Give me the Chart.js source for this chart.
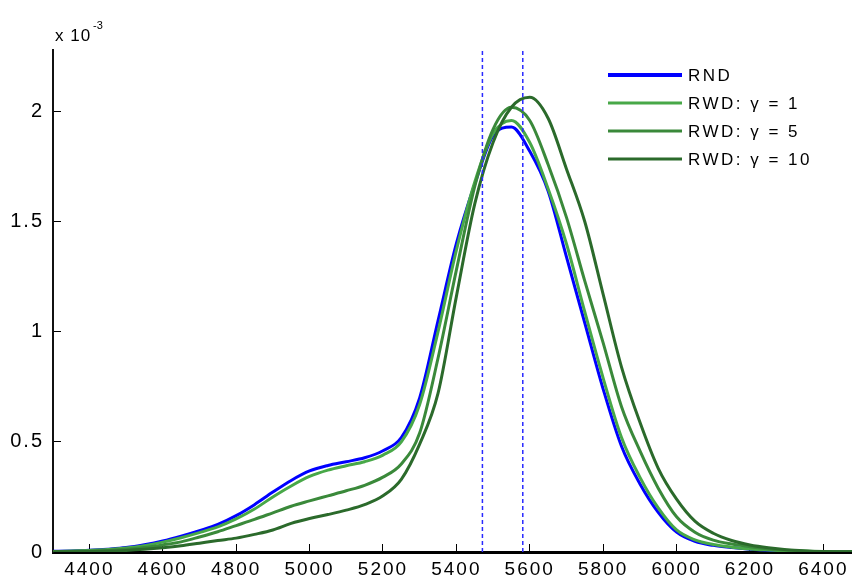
<!DOCTYPE html>
<html>
<head>
<meta charset="utf-8">
<script src="https://cdn.jsdelivr.net/npm/chart.js@4/dist/chart.umd.min.js"></script>
<style>
  html, body { margin: 0; padding: 0; background: #ffffff; }
  #wrap { width: 852px; height: 579px; }
</style>
</head>
<body>
<div id="wrap"><canvas id="c" width="852" height="579"></canvas></div>
<script>
// Price grid shared by all density curves
const price = [4300, 4350, 4400, 4450, 4500, 4550, 4600, 4650, 4700, 4750,
               4800, 4850, 4900, 4950, 5000, 5050, 5100, 5150, 5200, 5250,
               5300, 5350, 5400, 5450, 5500, 5550, 5600, 5650, 5700, 5750,
               5800, 5850, 5900, 5950, 6000, 6050, 6100, 6150, 6200, 6250,
               6300, 6350, 6400, 6450, 6500];

// Densities, in units of 1e-3
const rnd = [0.003, 0.005, 0.008, 0.013, 0.020, 0.033, 0.050, 0.072, 0.097, 0.125,
             0.165, 0.215, 0.272, 0.325, 0.368, 0.393, 0.410, 0.428, 0.460, 0.520,
             0.700, 1.050, 1.400, 1.670, 1.890, 1.930, 1.820, 1.640, 1.340, 1.040,
             0.740, 0.480, 0.310, 0.180, 0.090, 0.048, 0.030, 0.020, 0.013, 0.008,
             0.004, 0.002, 0.001, 0.0005, 0.0003];
const rwdGamma1 = [0.002, 0.004, 0.007, 0.011, 0.018, 0.029, 0.045, 0.065, 0.088, 0.114,
                   0.150, 0.195, 0.250, 0.300, 0.343, 0.372, 0.392, 0.410, 0.440, 0.500,
                   0.670, 1.000, 1.370, 1.680, 1.900, 1.960, 1.860, 1.650, 1.400, 1.090,
                   0.790, 0.520, 0.340, 0.200, 0.100, 0.055, 0.034, 0.022, 0.014, 0.009,
                   0.005, 0.003, 0.001, 0.0005, 0.0003];
const rwdGamma5 = [0.001, 0.002, 0.004, 0.007, 0.012, 0.020, 0.032, 0.046, 0.068, 0.092,
                   0.120, 0.148, 0.178, 0.208, 0.232, 0.255, 0.278, 0.303, 0.340, 0.400,
                   0.540, 0.880, 1.280, 1.660, 1.920, 2.020, 1.960, 1.760, 1.520, 1.230,
                   0.950, 0.660, 0.460, 0.290, 0.160, 0.090, 0.054, 0.036, 0.024, 0.014,
                   0.008, 0.004, 0.002, 0.001, 0.0005];
const rwdGamma10 = [0.0005, 0.001, 0.002, 0.004, 0.007, 0.012, 0.019, 0.028, 0.040, 0.052,
                    0.063, 0.080, 0.100, 0.130, 0.152, 0.170, 0.190, 0.215, 0.255, 0.330,
                    0.490, 0.720, 1.160, 1.580, 1.860, 2.020, 2.065, 1.970, 1.740, 1.500,
                    1.170, 0.840, 0.590, 0.380, 0.240, 0.140, 0.085, 0.052, 0.032, 0.019,
                    0.010, 0.005, 0.002, 0.001, 0.0005];

// Reference prices marked by dashed vertical lines
const markerPrices = [5471, 5581];

// Axis ticks
const xTicks = [4400, 4600, 4800, 5000, 5200, 5400, 5600, 5800, 6000, 6200, 6400];
const yTicks = [0, 0.5, 1, 1.5, 2];
const xMin = 4301, xMax = 6478;
const yMin = 0, yMax = 2.28;

const seriesNames = ['RND', 'RWD: \u03b3 = 1', 'RWD: \u03b3 = 5', 'RWD: \u03b3 = 10'];
const seriesColors = ['#0000ff', '#48a848', '#3a893a', '#2b6a2b'];

const FONT = '"Liberation Sans", Arial, sans-serif';

function points(ys) {
  return price.map((x, i) => ({ x: x, y: ys[i] }));
}

const curveSets = [rnd, rwdGamma1, rwdGamma5, rwdGamma10].map((ys, i) => ({
  label: seriesNames[i],
  data: points(ys),
  borderColor: seriesColors[i],
  backgroundColor: seriesColors[i],
  borderWidth: 3,
  pointRadius: 0,
  cubicInterpolationMode: 'monotone',
  fill: false,
  order: 4 - i,
  inLegend: true,
  legendWidth: i === 0 ? 4 : 3
}));

const markerSets = markerPrices.map(p => ({
  label: 'marker ' + p,
  data: [{ x: p, y: yMin }, { x: p, y: yMax }],
  borderColor: '#2a2aff',
  borderWidth: 1.5,
  borderDash: [4, 3],
  pointRadius: 0,
  fill: false,
  order: 0,
  inLegend: false
}));

// Exponent label and legend drawn on top of the plot
const overlay = {
  id: 'overlay',
  beforeDraw(chart) {
    chart.ctx.letterSpacing = '2px';
  },
  afterDraw(chart) {
    const ctx = chart.ctx;
    ctx.save();
    ctx.fillStyle = '#000';
    ctx.textBaseline = 'alphabetic';
    ctx.textAlign = 'left';
    ctx.letterSpacing = '1px';
    ctx.font = '17px ' + FONT;
    ctx.fillText('x 10', 55, 41);
    ctx.letterSpacing = '0px';
    ctx.font = '11px ' + FONT;
    ctx.fillText('-3', 93, 29);

    ctx.font = '17px ' + FONT;
    ctx.letterSpacing = '2.5px';
    ctx.textBaseline = 'middle';
    const items = chart.data.datasets.filter(d => d.inLegend);
    items.forEach((d, i) => {
      const y = 75 + i * 28;
      ctx.strokeStyle = d.borderColor;
      ctx.lineWidth = d.legendWidth;
      ctx.beginPath();
      ctx.moveTo(608, y);
      ctx.lineTo(682, y);
      ctx.stroke();
      ctx.fillStyle = '#000';
      ctx.fillText(d.label, 688, y + 1);
    });
    ctx.restore();
  }
};

new Chart(document.getElementById('c'), {
  type: 'line',
  data: { datasets: [...curveSets, ...markerSets] },
  plugins: [overlay],
  options: {
    responsive: false,
    devicePixelRatio: 1,
    animation: false,
    layout: { padding: { top: 50, left: 0, right: 0, bottom: 0 } },
    plugins: {
      legend: { display: false },
      tooltip: { enabled: false }
    },
    scales: {
      x: {
        type: 'linear',
        min: xMin,
        max: xMax,
        afterBuildTicks: s => { s.ticks = xTicks.map(v => ({ value: v })); },
        afterFit: s => { s.height = 27; s.paddingLeft = 0; s.paddingRight = 0; },
        border: { display: true, color: '#000', width: 3 },
        grid: { drawOnChartArea: false, drawTicks: true, tickLength: -8, color: '#000', lineWidth: 1 },
        ticks: {
          autoSkip: false,
          maxRotation: 0,
          padding: 14,
          color: '#000',
          font: { family: FONT, size: 19 },
          callback: v => String(v)
        }
      },
      y: {
        type: 'linear',
        min: yMin,
        max: yMax,
        afterBuildTicks: s => { s.ticks = yTicks.map(v => ({ value: v })); },
        afterFit: s => { s.width = 53; s.paddingTop = 0; s.paddingBottom = 0; },
        border: { display: true, color: '#111', width: 2 },
        grid: { drawOnChartArea: false, drawTicks: true, tickLength: -8, color: '#000', lineWidth: 1 },
        ticks: {
          autoSkip: false,
          padding: 17,
          color: '#000',
          font: { family: FONT, size: 20 },
          callback: v => String(v)
        }
      }
    }
  }
});
</script>
</body>
</html>
